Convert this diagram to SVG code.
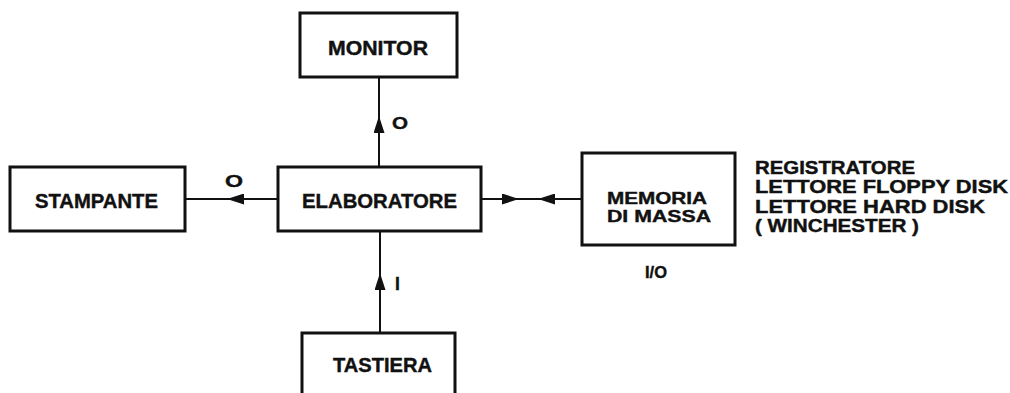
<svg xmlns="http://www.w3.org/2000/svg" width="1010" height="393" viewBox="0 0 1010 393">
<style>
.box{fill:#fff;stroke:#111;stroke-width:3}
.lbl{font-family:"Liberation Sans",Arial,sans-serif;font-weight:bold;fill:#111;font-size:19.5px;stroke:#111;stroke-width:0.4}
.sm{font-size:17.5px}
.xs{font-size:16.5px}
.con{fill:none;stroke:#111;stroke-width:2}
</style>
<defs>
<marker id="arr" viewBox="0 0 17 11" refX="17" refY="5.5" markerWidth="17" markerHeight="11" markerUnits="userSpaceOnUse" orient="auto">
<path d="M0,0 L17,5.5 L0,11 z" fill="#111"/>
</marker>
</defs>
<rect width="1010" height="393" fill="#fff"/>
<g id="connectors">
<path class="con" d="M379,167 L379,116 L379,77" marker-mid="url(#arr)"/>
<path class="con" d="M278,199 L227,199 L185,199" marker-mid="url(#arr)"/>
<path class="con" d="M481,199 L519,199 L530,199" marker-mid="url(#arr)"/>
<path class="con" d="M582,199 L538,199 L530,199" marker-mid="url(#arr)"/>
<path class="con" d="M380,333 L380,273 L380,231" marker-mid="url(#arr)"/>
<text class="lbl xs" x="392" y="129" textLength="16" lengthAdjust="spacingAndGlyphs">O</text>
<text class="lbl xs" x="225" y="187" textLength="18" lengthAdjust="spacingAndGlyphs">O</text>
<text class="lbl sm" x="395" y="290">I</text>
</g>
<g id="monitor">
<rect class="box" x="300" y="13" width="157" height="64"/>
<text class="lbl" x="328" y="55" textLength="100" lengthAdjust="spacingAndGlyphs">MONITOR</text>
</g>
<g id="stampante">
<rect class="box" x="10" y="167" width="175" height="64"/>
<text class="lbl" x="35" y="208" textLength="123" lengthAdjust="spacingAndGlyphs">STAMPANTE</text>
</g>
<g id="elaboratore">
<rect class="box" x="278" y="167" width="203" height="64"/>
<text class="lbl" x="302" y="208" textLength="155" lengthAdjust="spacingAndGlyphs">ELABORATORE</text>
</g>
<g id="memoria">
<rect class="box" x="582" y="153" width="153" height="92"/>
<text class="lbl xs" x="607" y="204" textLength="100" lengthAdjust="spacingAndGlyphs">MEMORIA</text>
<text class="lbl xs" x="607" y="222" textLength="104" lengthAdjust="spacingAndGlyphs">DI MASSA</text>
<text class="lbl xs" x="645" y="278" textLength="22" lengthAdjust="spacingAndGlyphs">I/O</text>
<text class="lbl sm" x="755" y="174" textLength="160" lengthAdjust="spacingAndGlyphs">REGISTRATORE</text>
<text class="lbl sm" x="755" y="193" textLength="253" lengthAdjust="spacingAndGlyphs">LETTORE FLOPPY DISK</text>
<text class="lbl sm" x="755" y="213" textLength="230" lengthAdjust="spacingAndGlyphs">LETTORE HARD DISK</text>
<text class="lbl sm" x="755" y="232" textLength="164" lengthAdjust="spacingAndGlyphs">( WINCHESTER )</text>
</g>
<g id="tastiera">
<rect class="box" x="302" y="333" width="153" height="80"/>
<text class="lbl" x="333" y="372" textLength="99" lengthAdjust="spacingAndGlyphs">TASTIERA</text>
</g>
</svg>
